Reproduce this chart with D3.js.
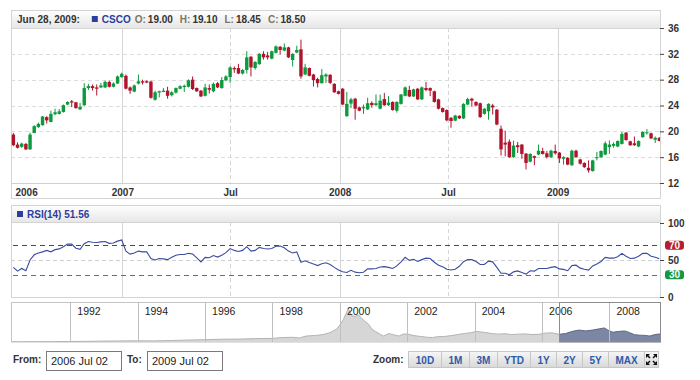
<!DOCTYPE html>
<meta charset="utf-8">
<style>
html, body { margin: 0; background: #fff; }
svg text { font-family: 'Liberation Sans', Arial, sans-serif; }
.axis path { display: none; }
.axis line { stroke: #444; }
.axis text { font-size: 10px; font-weight: bold; fill: #333; }
</style>
<div id="chart"></div>
<script src="https://d3js.org/d3.v7.min.js"></script>
<script>

// weekly CSCO candles, first week starting 2006 Jul 02
var firstWeek = new Date(2006, 6, 2);
var opens = [19.5,17.95,17.6,18.05,17.2,19.75,20.65,20.95,22.2,21.45,22.65,22.7,23.0,24.15,24.65,24.5,23.4,24.05,26.7,27.0,
  26.8,26.8,26.8,27.65,26.9,27.4,28.4,28.6,26.8,26.15,27.4,27.75,27.75,27.7,24.9,26.0,26.1,26.3,25.6,26.0,
  26.6,26.85,26.9,28.0,26.7,26.3,25.5,26.7,26.2,27.45,26.7,27.9,28.4,29.8,29.8,28.95,29.5,31.55,29.8,30.4,
  32.0,31.75,31.25,32.15,33.1,32.5,33.0,31.05,32.2,32.7,28.8,29.8,28.8,28.1,27.45,28.5,28.75,27.35,26.2,26.6,
  22.35,24.3,25.05,23.7,23.55,23.4,24.4,24.05,23.5,25.0,24.05,24.55,23.2,24.25,25.5,26.4,25.4,26.6,24.95,26.7,
  26.7,26.2,24.95,23.6,23.3,22.1,21.65,22.4,22.0,24.15,25.05,24.55,24.35,22.7,23.1,24.0,23.35,20.4,18.25,18.4,
  16.0,17.85,17.95,16.55,15.3,16.15,16.4,16.95,16.6,16.0,16.95,16.7,15.75,15.9,14.75,17.0,15.65,15.1,14.35,13.85,
  15.85,16.0,16.4,17.55,17.75,17.65,18.05,19.8,18.45,18.15,17.65,19.1,19.7,19.7,18.7,19.0];
var highs = [19.75,18.3,18.25,18.2,19.8,20.95,21.35,22.35,22.35,23.2,23.5,23.45,24.15,24.65,24.85,24.55,24.4,27.45,27.35,27.25,
  27.25,27.5,27.85,27.85,27.6,28.65,29.1,28.8,26.95,27.25,28.8,28.0,27.9,27.85,26.3,26.3,26.7,26.9,26.2,26.8,
  27.15,27.25,28.05,28.5,26.8,26.4,27.35,27.25,27.55,27.65,28.4,28.7,30.05,30.05,30.45,29.65,32.4,31.65,30.85,32.1,
  32.4,32.3,32.5,33.3,33.2,33.6,33.1,32.1,33.25,34.2,30.45,29.9,28.9,28.3,29.65,29.0,28.85,27.45,26.3,26.7,
  26.1,25.2,25.2,23.85,24.15,25.2,24.65,25.7,25.7,25.95,25.45,24.65,24.65,25.8,26.95,27.05,26.6,26.7,26.95,27.65,
  26.8,26.3,25.05,23.7,23.4,22.2,22.55,22.5,24.35,25.2,25.2,24.65,24.45,23.6,24.35,24.25,23.45,20.9,20.1,18.75,
  18.55,18.35,18.05,16.65,16.6,16.25,17.95,17.45,16.95,17.15,17.95,16.8,16.15,16.0,17.15,17.15,15.75,15.2,15.5,15.6,
  16.8,17.05,18.45,18.6,18.3,18.6,19.9,19.9,18.55,19.2,18.6,20.0,20.35,19.8,19.2,19.1];
var lows = [17.7,17.35,17.45,17.1,17.15,19.7,20.55,20.9,21.2,21.4,22.5,22.6,22.9,24.05,23.75,23.5,23.3,23.95,26.4,26.3,
  25.55,26.7,26.7,26.8,26.8,27.35,28.3,26.5,25.8,26.05,27.25,27.25,27.45,25.05,24.75,25.25,26.05,25.05,25.4,25.85,
  26.5,26.1,26.8,26.4,26.1,25.3,25.4,25.85,26.05,26.7,26.6,27.75,27.5,29.05,28.85,28.8,28.95,28.5,29.55,30.3,
  31.1,31.1,31.15,32.05,31.9,32.4,31.35,30.05,32.1,28.15,28.7,28.5,26.95,26.8,27.4,27.5,27.35,25.95,25.7,24.05,
  22.25,23.6,21.8,23.1,22.7,23.3,23.65,23.95,23.4,23.95,23.95,23.2,22.9,24.15,25.4,25.3,25.3,24.85,24.85,26.2,
  25.45,24.45,23.4,22.9,21.55,20.55,21.55,21.9,21.9,24.05,23.8,23.9,22.1,22.6,21.8,22.6,20.95,16.25,16.15,15.9,
  15.9,16.65,15.75,14.1,15.2,14.75,16.3,16.4,15.8,15.9,16.4,15.1,14.85,14.75,14.65,15.9,14.85,14.35,13.6,13.75,
  15.5,15.9,16.3,16.5,17.45,17.55,17.95,18.55,17.75,17.75,17.55,19.0,19.5,18.8,18.2,18.45];
var closes = [17.85,17.45,18.1,17.2,19.5,20.8,21.15,22.3,21.7,22.7,22.95,23.1,24.05,24.55,24.45,23.6,23.8,26.7,27.0,26.7,
  26.6,27.1,27.65,26.9,27.4,28.5,28.9,26.6,26.3,27.1,27.75,27.55,27.55,25.2,26.05,26.2,26.3,25.5,26.05,26.7,
  26.98,27.05,27.9,26.55,26.2,25.4,26.8,26.45,27.35,26.8,27.95,28.5,29.9,29.6,28.95,29.5,31.45,29.9,30.75,32.0,
  31.45,31.45,32.4,33.15,32.6,33.0,31.45,32.0,32.6,28.5,29.9,28.6,27.95,27.45,28.7,28.8,27.5,26.05,25.8,24.15,
  24.25,24.95,23.5,23.2,23.75,24.35,24.05,24.35,24.75,24.05,24.45,23.3,24.55,25.7,26.8,25.4,26.5,24.95,26.8,26.4,
  26.3,24.55,23.5,23.0,21.7,21.6,22.45,22.0,24.25,25.0,24.75,24.0,22.2,23.5,24.25,23.7,21.05,17.2,17.95,16.0,
  17.8,17.55,16.5,15.1,16.5,15.9,17.0,16.5,16.0,17.0,16.6,15.8,16.0,14.85,17.0,16.0,15.0,14.45,13.95,15.5,
  16.0,16.95,18.15,17.95,18.05,18.5,19.6,18.65,17.85,17.85,18.5,19.9,19.85,18.9,19.0,18.5];
var rsiValues = [40,35,38.6,35.5,50,57,59.5,61,63,61,64,65,68,71.5,71.5,66,64.5,72,75,74,
  73.6,74.5,75,72.5,73,75.5,77,62,58,59.5,62,61,61,52,50,52,51.5,50.5,53.6,56.5,
  57.5,57.5,59,58,53,47.5,53.6,53,56,54,56.5,60,65.5,63,61.5,63,68,62,63,67,
  65.5,64.8,65.5,68.5,69,66.5,62,59.5,61,47,49,46.5,44.5,42.5,45,46.2,44,40,36.5,34,
  33.2,36,33.6,32.8,33.5,38,38,38.5,40.5,41,40,38.5,42,47.5,53.6,49.5,51,48,50.5,52.5,
  52,47,43,41,37.5,36.5,37.6,41.5,47.7,50.5,50.5,48,44,44,48.5,47.5,40,32,32,30,
  34,35.3,33,31,35.5,35,38.5,38.5,38.5,40,41,38,37.3,35.5,42.5,43,39,37.5,36.4,42,
  44.5,48,53.6,52.5,52.5,54.5,59,55,52,52.5,55,59,59,55,53.6,51.56];

// navigator: full history (decimal years)
var navYears = [1990.24,1990.5,1991,1991.5,1992,1992.5,1993,1993.5,1994,1994.5,1995,1995.5,1996,1996.5,1997,1997.5,
  1998,1998.3,1998.6,1998.8,1999,1999.3,1999.5,1999.7,1999.9,2000,2000.1,2000.2,2000.25,2000.35,2000.45,2000.55,
  2000.65,2000.75,2000.85,2000.95,2001.05,2001.2,2001.3,2001.45,2001.6,2001.75,2001.9,2002.05,2002.2,2002.4,2002.6,
  2002.75,2002.9,2003.1,2003.3,2003.5,2003.7,2003.9,2004.05,2004.15,2004.3,2004.5,2004.7,2004.9,2005.1,2005.3,
  2005.5,2005.7,2005.9,2006.1,2006.3,2006.5,2006.7,2006.9,2007.1,2007.3,2007.5,2007.7,2007.85,2007.95,2008.1,
  2008.3,2008.45,2008.6,2008.75,2008.9,2009.05,2009.2,2009.35,2009.5];
var navValues = [0.3,0.4,0.6,0.9,1.3,1.5,2.2,2.5,2.8,2.6,3.5,4.5,5.5,6.5,6.8,8,
  8.5,10.5,11,9.5,14,15.5,17.5,22,30,40,52,70,78,62,60,64,
  55,48,42,30,25,18,14,20,17,14,19,18,15,13,11,
  10.5,12.5,13,15,17.5,20,22,25,24,22.5,20,18.5,19.5,17.5,18.5,
  19,17.5,18,21,21.5,18,20,25,28,26,28,31,33,28,23,
  25,26,22,17,16,15.5,14,17.5,19];

var priceTicks = [12, 16, 20, 24, 28, 32, 36];
var rsiTicks = [0, 50, 100];
var rsiLevels = [70, 30];
var gridDates = [new Date(2007,0,1), new Date(2007,6,1), new Date(2008,0,1), new Date(2008,6,1), new Date(2009,0,1)];
var xTickLabels = ['2006', '2007', 'Jul', '2008', 'Jul', '2009'];
var navTickYears = [1992, 1994, 1996, 1998, 2000, 2002, 2004, 2006, 2008];
var selection = [2006.5, 2009.5];
var zoomButtons = ['10D', '1M', '3M', 'YTD', '1Y', '2Y', '5Y', 'MAX'];
var headerDate = 'Jun 28, 2009:';
var ticker = 'CSCO';
var rangeFrom = '2006 Jul 02', rangeTo = '2009 Jul 02';

var up = '#0b9a3c', down = '#b0132c', blue = '#2b3e9c';
var left = 11, right = 660;
var fmt = d3.format('.2f');

var data = opens.map(function(o, i) {
  return {date: d3.timeWeek.offset(firstWeek, i), o: o, h: highs[i], l: lows[i], c: closes[i], rsi: rsiValues[i]};
});

var svg = d3.select('#chart').append('svg').attr('width', 700).attr('height', 380);

var defs = svg.append('defs');
var hg = defs.append('linearGradient').attr('id', 'hdr').attr('x1', 0).attr('y1', 0).attr('x2', 0).attr('y2', 1);
hg.append('stop').attr('offset', '0%').attr('stop-color', '#ffffff');
hg.append('stop').attr('offset', '100%').attr('stop-color', '#e6e6e6');
var bg = defs.append('linearGradient').attr('id', 'btn').attr('x1', 0).attr('y1', 0).attr('x2', 0).attr('y2', 1);
bg.append('stop').attr('offset', '0%').attr('stop-color', '#f6f6f6');
bg.append('stop').attr('offset', '100%').attr('stop-color', '#d9d9d9');
defs.append('clipPath').attr('id', 'plotClip').append('rect')
  .attr('x', left).attr('y', 28).attr('width', right - left).attr('height', 155);

var x = d3.scaleTime().domain([new Date(2006,5,28), new Date(2009,5,22)]).range([left, right]);
var y = d3.scaleLinear().domain([12, 36]).range([183, 28]);
var yR = d3.scaleLinear().domain([0, 100]).range([297, 223]);

// panel frames
function frame(top, bottom, hdrBottom) {
  svg.append('rect').attr('x', left + .5).attr('y', top + .5).attr('width', right - left).attr('height', bottom - top)
    .attr('fill', '#fff').attr('stroke', '#d4d4d4');
  if (hdrBottom) svg.append('rect').attr('x', left + .5).attr('y', top + .5).attr('width', right - left).attr('height', hdrBottom - top)
    .attr('fill', 'url(#hdr)').attr('stroke', '#d4d4d4');
}
frame(10, 198, 28);
frame(205, 297, 222);

function vgrid(y0, y1) {
  svg.append('g').selectAll('line').data(gridDates).enter().append('line')
    .attr('x1', function(d) { return Math.round(x(d)) + .5; })
    .attr('x2', function(d) { return Math.round(x(d)) + .5; })
    .attr('y1', y0).attr('y2', y1)
    .attr('stroke', '#d6d6d6')
    .attr('stroke-dasharray', function(d) { return d.getMonth() === 6 ? '4,3' : null; });
}

// main price panel
svg.append('g').selectAll('line').data(priceTicks.slice(1, -1)).enter().append('line')
  .attr('x1', left).attr('x2', right)
  .attr('y1', function(d) { return Math.round(y(d)) + .5; })
  .attr('y2', function(d) { return Math.round(y(d)) + .5; })
  .attr('stroke', '#dcdcdc').attr('stroke-dasharray', '4,3');
vgrid(28, 183);
svg.append('line').attr('x1', left).attr('x2', right).attr('y1', 183.5).attr('y2', 183.5).attr('stroke', '#d0d0d0');

var candles = svg.append('g').attr('clip-path', 'url(#plotClip)').selectAll('g').data(data).enter().append('g');
candles.append('line')
  .attr('x1', function(d) { return x(d.date); }).attr('x2', function(d) { return x(d.date); })
  .attr('y1', function(d) { return y(d.h); }).attr('y2', function(d) { return y(d.l); })
  .attr('stroke', function(d) { return d.c >= d.o ? up : down; }).attr('stroke-width', 1);
candles.append('rect')
  .attr('x', function(d) { return x(d.date) - 1.7; }).attr('width', 3.4)
  .attr('y', function(d) { return y(Math.max(d.o, d.c)); })
  .attr('height', function(d) { return Math.max(1, Math.abs(y(d.o) - y(d.c))); })
  .attr('fill', function(d) { return d.c >= d.o ? up : down; });

var xAxis = d3.axisBottom(x).tickValues([x.domain()[0]].concat(gridDates))
  .tickFormat(function(d, i) { return xTickLabels[i]; }).tickSize(0).tickPadding(5);
var xa = svg.append('g').attr('class', 'axis').attr('transform', 'translate(0,184)').call(xAxis);
xa.selectAll('text').filter(function(d, i) { return i === 0; }).attr('text-anchor', 'start').attr('dx', 4);

svg.append('g').attr('class', 'axis').attr('transform', 'translate(' + right + ',0)')
  .call(d3.axisRight(y).tickValues(priceTicks).tickSize(4).tickPadding(4));

// header
var hx = 17;
function htext(str, color, gap) {
  var t = svg.append('text').attr('x', hx).attr('y', 23).attr('font-size', '10px').attr('font-weight', 'bold')
    .attr('fill', color).text(str);
  hx += t.node().getComputedTextLength() + gap;
}
var last = data[data.length - 1];
htext(headerDate, '#333', 12);
svg.append('rect').attr('x', hx).attr('y', 16).attr('width', 6).attr('height', 6).attr('fill', blue);
hx += 10;
htext(ticker, blue, 4);
[['O:', last.o], ['H:', last.h], ['L:', last.l], ['C:', last.c]].forEach(function(p) {
  htext(p[0], '#7d7462', 2);
  htext(fmt(p[1]), '#333', 7);
});

// RSI panel
vgrid(222, 297);
svg.append('line').attr('x1', left).attr('x2', right).attr('y1', Math.round(yR(50)) + .5).attr('y2', Math.round(yR(50)) + .5)
  .attr('stroke', '#cfcfcf').attr('stroke-dasharray', '4,3');
// overbought / oversold levels, dashes drawn as small rects
var dashX = d3.range(left + 2, right - 2, 9);
rsiLevels.forEach(function(lv) {
  svg.append('g').selectAll('rect').data(dashX).enter().append('rect')
    .attr('x', function(d) { return d; }).attr('y', Math.round(yR(lv)))
    .attr('width', function(d) { return Math.min(5, right - d); }).attr('height', 1)
    .attr('fill', lv > 50 ? '#c4161c' : '#0fa640');
});
svg.append('path').datum(data)
  .attr('d', d3.line().x(function(d) { return x(d.date); }).y(function(d) { return yR(d.rsi); }))
  .attr('fill', 'none').attr('stroke', '#3a4ca0').attr('stroke-width', 1.1);
svg.append('g').attr('class', 'axis').attr('transform', 'translate(' + right + ',0)')
  .call(d3.axisRight(yR).tickValues(rsiTicks).tickSize(4).tickPadding(4));
var badge = svg.append('g').selectAll('g').data(rsiLevels).enter().append('g')
  .attr('transform', function(d) { return 'translate(' + (right + 5) + ',' + yR(d) + ')'; });
badge.append('rect').attr('x', 0).attr('y', -4.5).attr('width', 19).attr('height', 9).attr('rx', 3)
  .attr('fill', function(d) { return d > 50 ? '#b5202a' : '#14983f'; });
badge.append('text').attr('x', 9.5).attr('dy', '0.36em').attr('text-anchor', 'middle')
  .attr('font-size', '10px').attr('font-weight', 'bold').attr('fill', '#fff').text(function(d) { return d; });

svg.append('rect').attr('x', 17).attr('y', 211).attr('width', 6).attr('height', 6).attr('fill', blue);
svg.append('text').attr('x', 27).attr('y', 218).attr('font-size', '10px').attr('font-weight', 'bold')
  .attr('fill', blue).text('RSI(14) ' + fmt(last.rsi));

// navigator
var navX = d3.scaleLinear().domain([navYears[0], 2009.5]).range([left, right]);
var navY = d3.scaleLinear().domain([0, 94]).range([342, 302]);
svg.append('rect').attr('x', left + .5).attr('y', 302.5).attr('width', right - left).attr('height', 39.5)
  .attr('fill', '#fff').attr('stroke', '#c4c4c4');
defs.append('clipPath').attr('id', 'outSel').append('rect')
  .attr('x', left).attr('y', 302).attr('width', navX(selection[0]) - left).attr('height', 40);
defs.append('clipPath').attr('id', 'inSel').append('rect')
  .attr('x', navX(selection[0])).attr('y', 302).attr('width', right - navX(selection[0])).attr('height', 40);
var navArea = d3.area().x(function(d, i) { return navX(navYears[i]); }).y0(342).y1(function(d) { return navY(d); });
var navLine = d3.line().x(function(d, i) { return navX(navYears[i]); }).y(function(d) { return navY(d); });
svg.append('path').datum(navValues).attr('d', navArea).attr('fill', '#d6d6d6').attr('clip-path', 'url(#outSel)');
svg.append('path').datum(navValues).attr('d', navLine).attr('fill', 'none').attr('stroke', '#b4b4b4').attr('clip-path', 'url(#outSel)');
svg.append('path').datum(navValues).attr('d', navArea).attr('fill', '#7c87a3').attr('clip-path', 'url(#inSel)');
svg.append('path').datum(navValues).attr('d', navLine).attr('fill', 'none').attr('stroke', '#5d6883').attr('clip-path', 'url(#inSel)');
svg.append('g').selectAll('line').data(navTickYears).enter().append('line')
  .attr('x1', function(d) { return Math.round(navX(d)) + .5; }).attr('x2', function(d) { return Math.round(navX(d)) + .5; })
  .attr('y1', 302).attr('y2', 342).attr('stroke', '#c0c0c0');
svg.append('g').selectAll('text').data(navTickYears).enter().append('text')
  .attr('x', function(d) { return navX(d) + 7; }).attr('y', 314.5)
  .attr('font-size', '10.5px').attr('fill', '#222').text(function(d) { return d; });
svg.append('rect').attr('x', Math.round(navX(selection[0])) + .5).attr('y', 302.5)
  .attr('width', right - Math.round(navX(selection[0]))).attr('height', 39.5)
  .attr('fill', 'none').attr('stroke', '#8c8c8c');

// range inputs
function label(str, xx) {
  svg.append('text').attr('x', xx).attr('y', 363).attr('font-size', '10px').attr('font-weight', 'bold')
    .attr('fill', '#333').text(str);
}
function input(str, xx) {
  svg.append('rect').attr('x', xx + .5).attr('y', 351.5).attr('width', 75).attr('height', 19)
    .attr('fill', '#fff').attr('stroke', '#7a7a7a');
  svg.append('text').attr('x', xx + 5).attr('y', 365).attr('font-size', '11px').attr('fill', '#222').text(str);
}
label('From:', 13); input(rangeFrom, 46);
label('To:', 127); input(rangeTo, 147);

// zoom buttons
label('Zoom:', 373);
var btnW = [33, 28, 28, 33, 26, 26, 26, 36];
var bpos = [], acc = 408;
btnW.forEach(function(w) { bpos.push(acc); acc += w; });
var btn = svg.append('g').selectAll('g').data(zoomButtons).enter().append('g')
  .attr('transform', function(d, i) { return 'translate(' + bpos[i] + ',351)'; });
btn.append('rect').attr('x', .5).attr('y', .5).attr('width', function(d, i) { return btnW[i]; }).attr('height', 16)
  .attr('fill', 'url(#btn)').attr('stroke', '#c6c6c6');
btn.append('text').attr('x', function(d, i) { return btnW[i] / 2 + .5; }).attr('y', 12.5).attr('text-anchor', 'middle')
  .attr('font-size', '10px').attr('font-weight', 'bold').attr('fill', '#2d5ba8').text(function(d) { return d; });
svg.append('rect').attr('x', acc + .5).attr('y', 351.5).attr('width', 14).attr('height', 16)
  .attr('fill', 'url(#btn)').attr('stroke', '#c6c6c6');
var ic = svg.append('g').attr('transform', 'translate(' + (acc + 7.5) + ',359.5)');
[[-1, -1], [1, -1], [-1, 1], [1, 1]].forEach(function(s) {
  ic.append('path').attr('d', 'M' + s[0] * 5.5 + ',' + s[1] * 5.5 + 'L' + s[0] * 1.5 + ',' + s[1] * 5.5 + 'L' + s[0] * 5.5 + ',' + s[1] * 1.5 + 'Z')
    .attr('fill', '#111');
  ic.append('line').attr('x1', s[0] * 1.5).attr('y1', s[1] * 1.5).attr('x2', s[0] * 4).attr('y2', s[1] * 4)
    .attr('stroke', '#111').attr('stroke-width', 1.5);
});

</script>
